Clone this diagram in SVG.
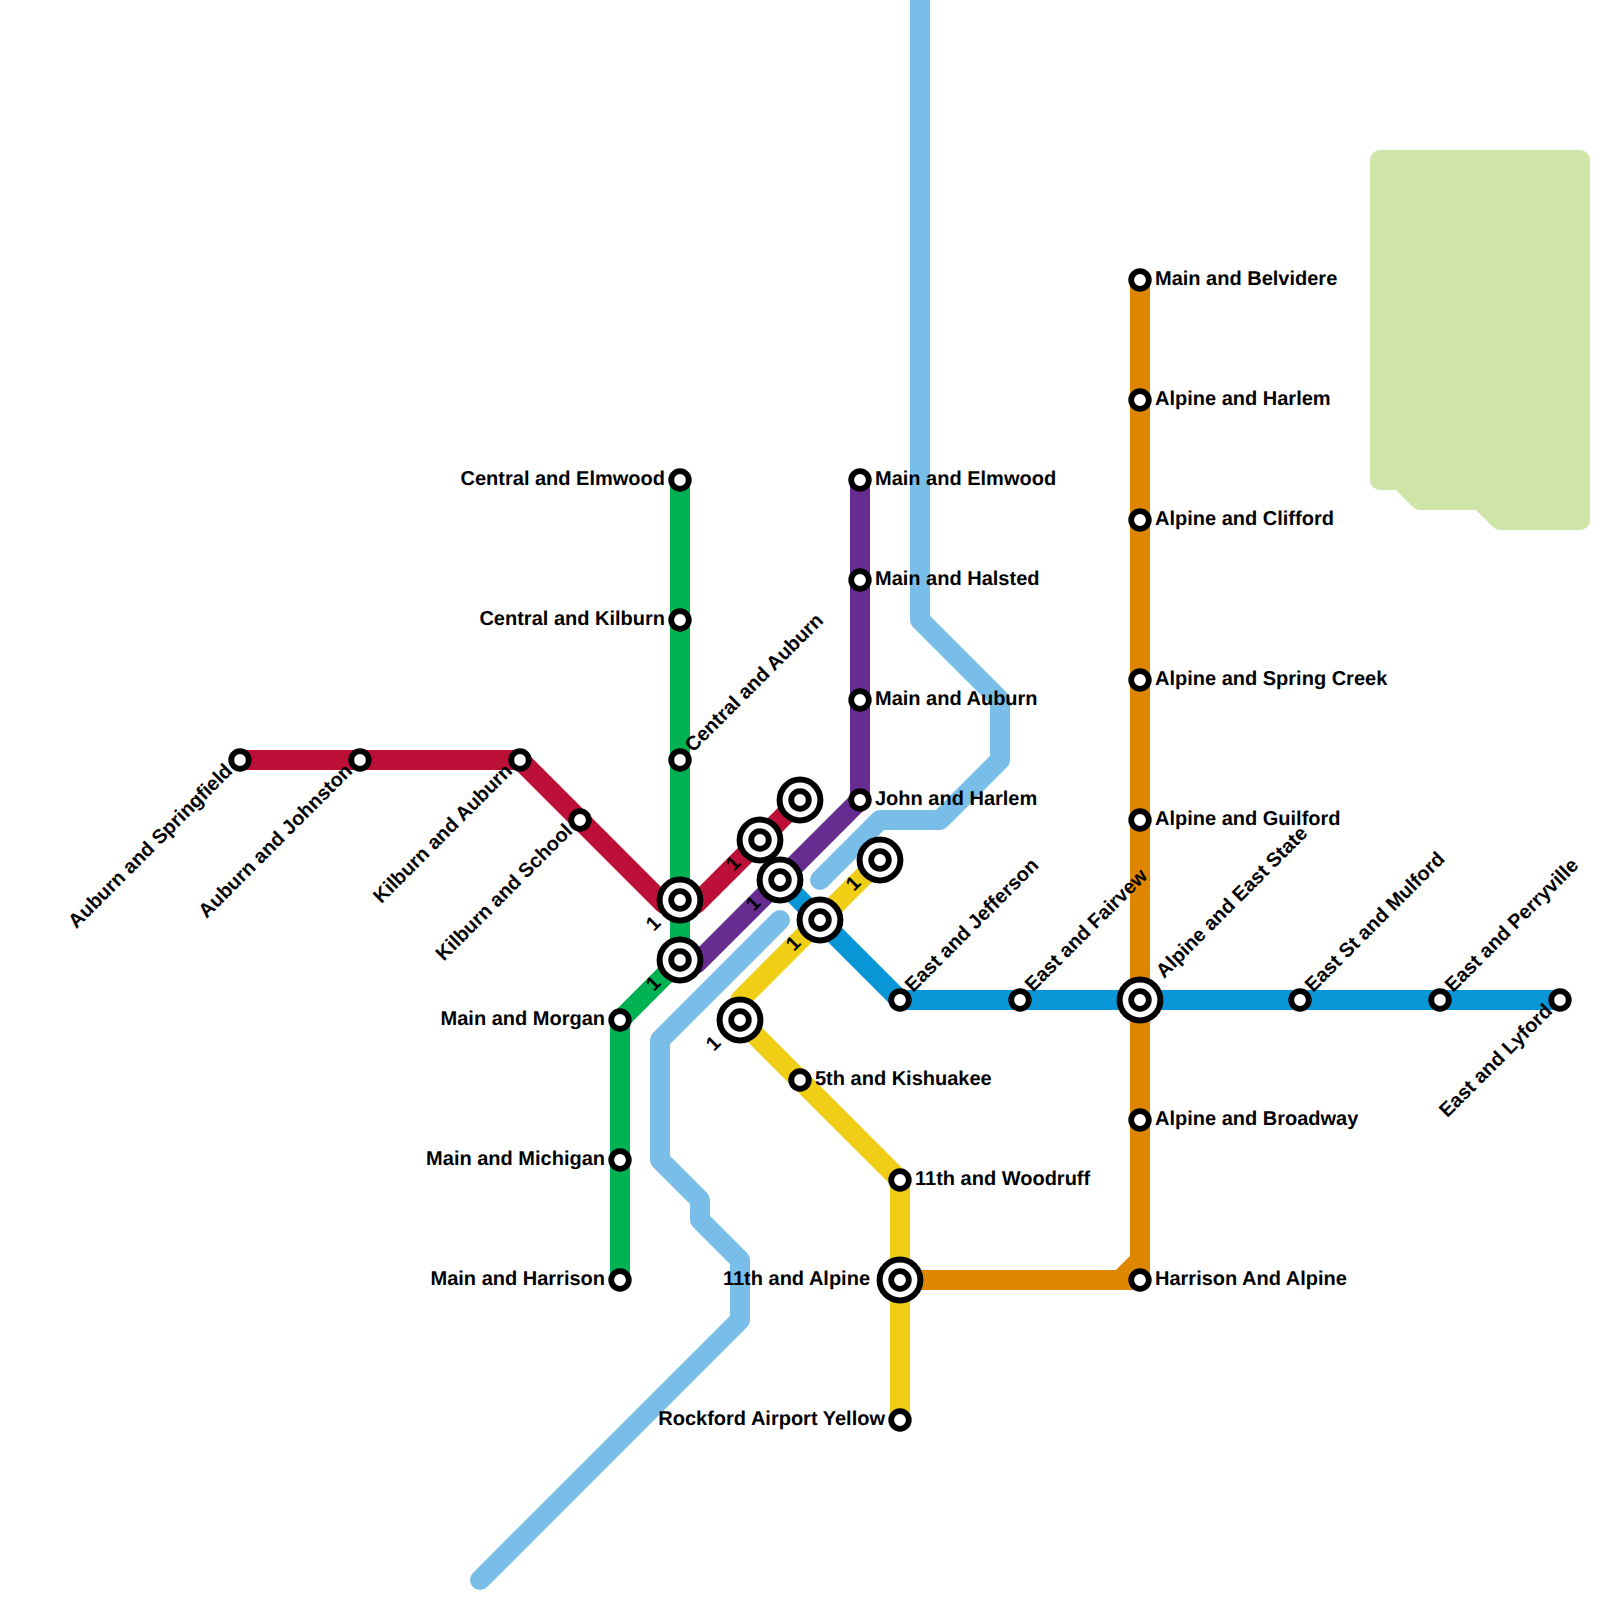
<svg xmlns="http://www.w3.org/2000/svg" width="1600" height="1600" viewBox="0 0 1600 1600">
<style>
.l{fill:none;stroke-width:20;stroke-linecap:round;stroke-linejoin:round}
.o{fill:#fff;stroke:#000;stroke-width:6}
.s{fill:#fff;stroke:#000;stroke-width:5.8}
text{font-family:"Liberation Sans",Arial,sans-serif;font-weight:700;font-size:20px;fill:#000;text-rendering:geometricPrecision}
.e{text-anchor:end}
.n{text-anchor:middle}
</style>
<defs>
<g id="st"><circle class="s" r="8.8"/></g>
<g id="ix"><circle class="o" r="20.4"/><circle class="s" r="8.8"/></g>
</defs>
<path id="park" d="M1380 160H1580V520H1500L1480 500H1420L1400 480H1380Z" fill="#cfe4a7" stroke="#cfe4a7" stroke-width="20" stroke-linejoin="round"/>
<g id="connectors">
<path class="l" stroke="#79bde9" d="M920 0V620L1000 700V760L940 820H880L820 880"/>
<path class="l" stroke="#79bde9" d="M780 920L660 1040V1160L700 1200V1220L740 1260V1320L480 1580"/>
<path class="l" stroke="#df8600" d="M1140 280V1280H1120M900 1280H1120L1140 1260"/>
<path class="l" stroke="#0896d7" d="M780 880L900 1000H1560"/>
<path class="l" stroke="#f0ce15" d="M880 860L740 1000V1020L900 1180V1420"/>
<path class="l" stroke="#00b251" d="M680 480V960L620 1020V1280"/>
<path class="l" stroke="#662c90" d="M860 480V800L696 964L680 960"/>
<path class="l" stroke="#bd1038" d="M240 760H520L664 904L680 900L696 904L800 800"/>
</g>
<g id="n01"><use href="#st" x="240" y="760"/><text class="e" transform="translate(233.500,772) rotate(-45)">Auburn and Springfield</text></g>
<g id="n02"><use href="#st" x="360" y="760"/><text class="e" transform="translate(353.500,772) rotate(-45)">Auburn and Johnston</text></g>
<g id="n03"><use href="#st" x="520" y="760"/><text class="e" transform="translate(513.500,772) rotate(-45)">Kilburn and Auburn</text></g>
<g id="n04"><use href="#st" x="580" y="820"/><text class="e" transform="translate(573.500,832) rotate(-45)">Kilburn and School</text></g>
<g id="n05"><use href="#st" x="680" y="480"/><text class="e" x="665" y="485">Central and Elmwood</text></g>
<g id="n06"><use href="#st" x="680" y="620"/><text class="e" x="665" y="625">Central and Kilburn</text></g>
<g id="n07"><use href="#st" x="680" y="760"/><text transform="translate(693,753) rotate(-45)">Central and Auburn</text></g>
<g id="n08"><use href="#ix" x="680" y="900"/><text class="n" transform="translate(653,923) rotate(-45)" y="7">1</text></g>
<g id="n09"><use href="#ix" x="680" y="960"/><text class="n" transform="translate(653,983) rotate(-45)" y="7">1</text></g>
<g id="n10"><use href="#ix" x="760" y="840"/><text class="n" transform="translate(733,863) rotate(-45)" y="7">1</text></g>
<g id="n11"><use href="#ix" x="800" y="800"/></g>
<g id="n12"><use href="#ix" x="780" y="880"/><text class="n" transform="translate(753,903) rotate(-45)" y="7">1</text></g>
<g id="n13"><use href="#ix" x="880" y="860"/><text class="n" transform="translate(853,883) rotate(-45)" y="7">1</text></g>
<g id="n14"><use href="#ix" x="820" y="920"/><text class="n" transform="translate(793,943) rotate(-45)" y="7">1</text></g>
<g id="n15"><use href="#ix" x="740" y="1020"/><text class="n" transform="translate(713,1043) rotate(-45)" y="7">1</text></g>
<g id="n16"><use href="#st" x="860" y="480"/><text x="875" y="485">Main and Elmwood</text></g>
<g id="n17"><use href="#st" x="860" y="580"/><text x="875" y="585">Main and Halsted</text></g>
<g id="n18"><use href="#st" x="860" y="700"/><text x="875" y="705">Main and Auburn</text></g>
<g id="n19"><use href="#st" x="860" y="800"/><text x="875" y="805">John and Harlem</text></g>
<g id="n20"><use href="#st" x="620" y="1020"/><text class="e" x="605" y="1025">Main and Morgan</text></g>
<g id="n21"><use href="#st" x="620" y="1160"/><text class="e" x="605" y="1165">Main and Michigan</text></g>
<g id="n22"><use href="#st" x="620" y="1280"/><text class="e" x="605" y="1285">Main and Harrison</text></g>
<g id="n23"><use href="#st" x="800" y="1080"/><text x="815" y="1085">5th and Kishuakee</text></g>
<g id="n24"><use href="#st" x="900" y="1180"/><text x="915" y="1185">11th and Woodruff</text></g>
<g id="n25"><use href="#ix" x="900" y="1280"/><text class="e" x="870" y="1285">11th and Alpine</text></g>
<g id="n26"><use href="#st" x="900" y="1420"/><text class="e" x="885" y="1425">Rockford Airport Yellow</text></g>
<g id="n27"><use href="#st" x="900" y="1000"/><text transform="translate(913,993) rotate(-45)">East and Jefferson</text></g>
<g id="n28"><use href="#st" x="1020" y="1000"/><text transform="translate(1033,992.500) rotate(-45)">East and Fairvew</text></g>
<g id="n29"><use href="#ix" x="1140" y="1000"/><text transform="translate(1164,979) rotate(-45)">Alpine and East State</text></g>
<g id="n30"><use href="#st" x="1300" y="1000"/><text transform="translate(1313,993) rotate(-45)">East St and Mulford</text></g>
<g id="n31"><use href="#st" x="1440" y="1000"/><text transform="translate(1453,993) rotate(-45)">East and Perryville</text></g>
<g id="n32"><use href="#st" x="1560" y="1000"/><text class="e" transform="translate(1553.500,1012) rotate(-45)">East and Lyford</text></g>
<g id="n33"><use href="#st" x="1140" y="280"/><text x="1155" y="285">Main and Belvidere</text></g>
<g id="n34"><use href="#st" x="1140" y="400"/><text x="1155" y="405">Alpine and Harlem</text></g>
<g id="n35"><use href="#st" x="1140" y="520"/><text x="1155" y="525">Alpine and Clifford</text></g>
<g id="n36"><use href="#st" x="1140" y="680"/><text x="1155" y="685">Alpine and Spring Creek</text></g>
<g id="n37"><use href="#st" x="1140" y="820"/><text x="1155" y="825">Alpine and Guilford</text></g>
<g id="n38"><use href="#st" x="1140" y="1120"/><text x="1155" y="1125">Alpine and Broadway</text></g>
<g id="n39"><use href="#st" x="1140" y="1280"/><text x="1155" y="1285">Harrison And Alpine</text></g>
</svg>
